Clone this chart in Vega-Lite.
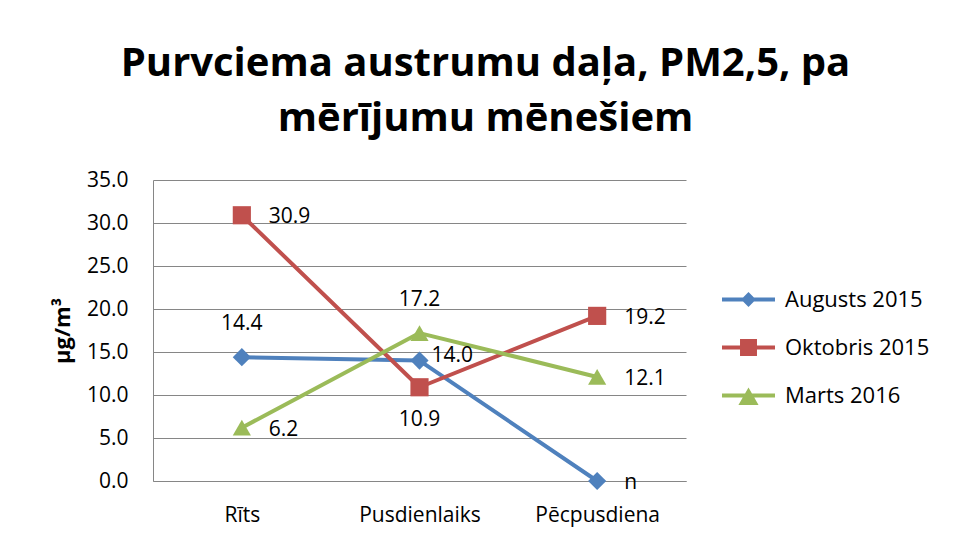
{
  "$schema": "https://vega.github.io/schema/vega-lite/v6.json",
  "width": 533,
  "height": 301,
  "autosize": {"type": "none"},
  "padding": {"left": 153, "top": 180, "right": 272, "bottom": 62},
  "background": "white",
  "config": {"view": {"stroke": null}, "font": "Open Sans"},
  "title": {
    "text": ["Purvciema austrumu daļa, PM2,5, pa", "mērījumu mēnešiem"],
    "fontSize": 40,
    "font": "Open Sans",
    "fontWeight": "bold",
    "lineHeight": 55,
    "baseline": "alphabetic",
    "offset": 47,
    "dy": 49,
    "dx": 66,
    "color": "black"
  },
  "data": {
    "values": [
      {"serija": "Augusts 2015", "laiks": "Rīts", "vertiba": 14.4, "label": "14.4"},
      {"serija": "Augusts 2015", "laiks": "Pusdienlaiks", "vertiba": 14.0, "label": "14.0"},
      {"serija": "Augusts 2015", "laiks": "Pēcpusdiena", "vertiba": 0, "label": "n"},
      {"serija": "Oktobris 2015", "laiks": "Rīts", "vertiba": 30.9, "label": "30.9"},
      {"serija": "Oktobris 2015", "laiks": "Pusdienlaiks", "vertiba": 10.9, "label": "10.9"},
      {"serija": "Oktobris 2015", "laiks": "Pēcpusdiena", "vertiba": 19.2, "label": "19.2"},
      {"serija": "Marts 2016", "laiks": "Rīts", "vertiba": 6.2, "label": "6.2"},
      {"serija": "Marts 2016", "laiks": "Pusdienlaiks", "vertiba": 17.2, "label": "17.2"},
      {"serija": "Marts 2016", "laiks": "Pēcpusdiena", "vertiba": 12.1, "label": "12.1"}
    ]
  },
  "encoding": {
    "x": {
      "field": "laiks",
      "type": "nominal",
      "sort": ["Rīts", "Pusdienlaiks", "Pēcpusdiena"],
      "scale": {"type": "point", "padding": 0.5},
      "axis": {
        "title": null,
        "grid": false,
        "ticks": false,
        "tickSize": 0,
        "domainColor": "#868686",
        "labelFont": "Open Sans",
        "labelFontSize": 21,
        "labelColor": "black",
        "labelPadding": 23,
        "labelAngle": 0
      }
    },
    "y": {
      "field": "vertiba",
      "type": "quantitative",
      "scale": {"domain": [0, 35]},
      "axis": {
        "title": "µg/m³",
        "titleFont": "Open Sans",
        "titleFontWeight": "bold",
        "titleFontSize": 22,
        "titleColor": "black",
        "titlePadding": 12,
        "grid": true,
        "gridColor": "#868686",
        "values": [0, 5, 10, 15, 20, 25, 30, 35],
        "format": ".1f",
        "ticks": false,
        "tickSize": 0,
        "domainColor": "#868686",
        "labelFont": "Open Sans",
        "labelFontSize": 21,
        "labelColor": "black",
        "labelPadding": 25
      }
    }
  },
  "layer": [
    {
      "mark": {"type": "line", "strokeWidth": 4, "strokeCap": "round", "strokeJoin": "round"},
      "encoding": {
        "color": {
          "field": "serija",
          "type": "nominal",
          "scale": {"domain": ["Augusts 2015", "Oktobris 2015", "Marts 2016"], "range": ["#4F81BD", "#C0504D", "#9BBB59"]},
          "legend": null
        }
      }
    },
    {
      "mark": {"type": "point", "filled": true, "opacity": 1, "size": 330},
      "encoding": {
        "color": {
          "field": "serija",
          "type": "nominal",
          "scale": {"domain": ["Augusts 2015", "Oktobris 2015", "Marts 2016"], "range": ["#4F81BD", "#C0504D", "#9BBB59"]},
          "legend": null
        },
        "shape": {
          "field": "serija",
          "type": "nominal",
          "scale": {"domain": ["Augusts 2015", "Oktobris 2015", "Marts 2016"], "range": ["diamond", "square", "triangle-up"]},
          "legend": null
        }
      }
    },
    {
      "mark": {"type": "point", "filled": true, "size": 0, "opacity": 1},
      "encoding": {
        "color": {
          "field": "serija",
          "type": "nominal",
          "scale": {"domain": ["Augusts 2015", "Oktobris 2015", "Marts 2016"], "range": ["#4F81BD", "#C0504D", "#9BBB59"]},
          "legend": {
            "title": null,
            "orient": "none",
            "legendX": 569,
            "legendY": 93,
            "labelFont": "Open Sans",
            "labelFontSize": 22,
            "labelColor": "black",
            "symbolSize": 2809,
            "symbolStrokeWidth": 0,
            "symbolOpacity": 1,
            "labelOffset": 10,
            "rowPadding": 10
          }
        },
        "shape": {
          "field": "serija",
          "type": "nominal",
          "scale": {
            "domain": ["Augusts 2015", "Oktobris 2015", "Marts 2016"],
            "range": [
              "M-1,-0.075H1V0.075H-1Z M0,-0.28L0.28,0L0,0.28L-0.28,0Z",
              "M-1,-0.075H1V0.075H-1Z M-0.32,-0.32H0.32V0.32H-0.32Z",
              "M-1,-0.075H1V0.075H-1Z M0,-0.3L0.38,0.36H-0.38Z"
            ]
          },
          "legend": {
            "title": null,
            "orient": "none",
            "legendX": 569,
            "legendY": 93,
            "labelFont": "Open Sans",
            "labelFontSize": 22,
            "labelColor": "black",
            "symbolSize": 2809,
            "symbolStrokeWidth": 0,
            "symbolOpacity": 1,
            "labelOffset": 10,
            "rowPadding": 10
          }
        }
      }
    },
    {
      "transform": [{"filter": "!((datum.serija == 'Augusts 2015' && (datum.laiks == 'Rīts' || datum.laiks == 'Pusdienlaiks')) || (datum.laiks == 'Pusdienlaiks' && (datum.serija == 'Oktobris 2015' || datum.serija == 'Marts 2016')))"}],
      "mark": {"type": "text", "align": "left", "baseline": "middle", "dx": 27, "dy": 2, "fontSize": 21, "font": "Open Sans", "color": "black"},
      "encoding": {"text": {"field": "label"}}
    },
    {
      "transform": [{"filter": "datum.serija == 'Augusts 2015' && datum.laiks == 'Pusdienlaiks'"}],
      "mark": {"type": "text", "align": "left", "baseline": "middle", "dx": 12, "dy": -5, "fontSize": 21, "font": "Open Sans", "color": "black"},
      "encoding": {"text": {"field": "label"}}
    },
    {
      "transform": [{"filter": "(datum.serija == 'Augusts 2015' && datum.laiks == 'Rīts') || (datum.serija == 'Marts 2016' && datum.laiks == 'Pusdienlaiks')"}],
      "mark": {"type": "text", "align": "center", "baseline": "middle", "dy": -33, "fontSize": 21, "font": "Open Sans", "color": "black"},
      "encoding": {"text": {"field": "label"}}
    },
    {
      "transform": [{"filter": "datum.serija == 'Oktobris 2015' && datum.laiks == 'Pusdienlaiks'"}],
      "mark": {"type": "text", "align": "center", "baseline": "middle", "dy": 33, "fontSize": 21, "font": "Open Sans", "color": "black"},
      "encoding": {"text": {"field": "label"}}
    }
  ],
  "resolve": {"scale": {"color": "independent", "shape": "independent"}}
}
